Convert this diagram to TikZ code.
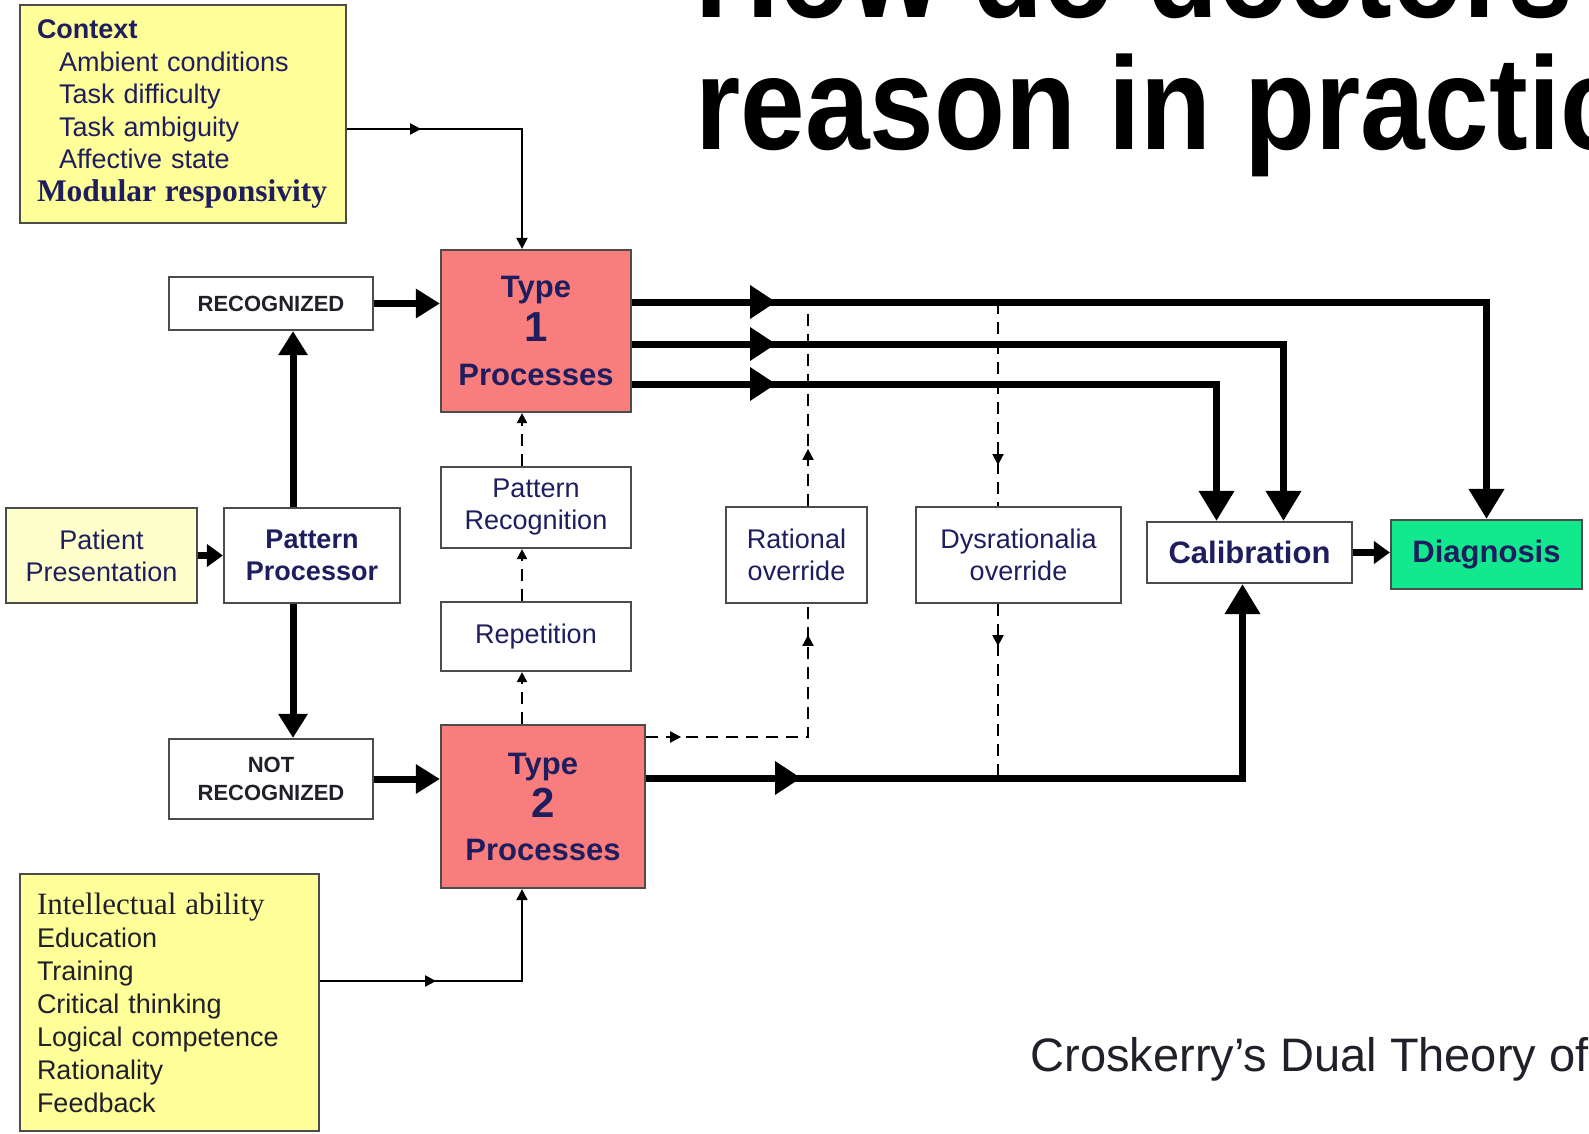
\documentclass[tikz,border=0pt]{standalone}
\usepackage{fontspec}
\setmainfont{Liberation Sans}
\newfontfamily\timesfont{Liberation Serif}
\newfontfamily\titlefont[FakeStretch=0.88]{Liberation Sans}
\usetikzlibrary{arrows.meta,decorations.markings}
\definecolor{navy}{RGB}{30,30,95}
\definecolor{ink}{RGB}{32,32,42}
\definecolor{lightyellow}{RGB}{255,255,153}
\definecolor{paleyellow}{RGB}{255,255,204}
\definecolor{salmon}{RGB}{250,125,125}
\definecolor{mint}{RGB}{18,232,142}
\newcommand{\fsz}[2]{\fontsize{#1}{#2}\selectfont}
\tikzset{
  box/.style={draw=black!70, line width=2.2pt, fill=white, align=center, inner sep=0pt, text=navy},
  heavy/.style={line width=7pt, -{Triangle[length=24pt,width=28pt]}},
  heavier/.style={line width=7pt, -{Triangle[length=30pt,width=34pt]}},
  short/.style={line width=7pt, -{Triangle[length=16pt,width=22pt]}},
  thinlink/.style={line width=2pt, -{Triangle[length=11pt,width=11pt]}},
  dashline/.style={line width=2pt, dash pattern=on 12pt off 8pt},
  dashlink/.style={dashline, -{Triangle[length=10pt,width=10pt]}},
  midbig/.style={postaction={decorate}, decoration={markings,
    mark=at position #1 with {\arrow{Triangle[length=26pt,width=32pt]}}}},
  midsmall/.style={postaction={decorate, decoration={markings,
    mark=at position #1 with {\arrow{Triangle[length=11pt,width=11pt]}}}}},
}
\begin{document}
\begin{tikzpicture}[x=1pt,y=-1pt]
  \useasboundingbox (0,0) rectangle (1589,1134);
  \clip (0,0) rectangle (1589,1134);
  % title and caption
  \node[anchor=base west, font=\titlefont\bfseries\fsz{132}{132}] (title1) at (692,18) {How do doctors};
  \node[anchor=base west, font=\titlefont\bfseries\fsz{132}{132}] (title2) at (692,150) {reason in practice};
  \node[anchor=base west, text=ink, font=\fsz{47}{56}] (caption) at (1027,1071) {Croskerry’s Dual Theory of};
  % boxes
  \node[box, fill=lightyellow, minimum width=326pt, minimum height=218pt, text width=292pt, align=left, font=\fsz{27}{32.5}] (ctx) at (183,114)
    {{\bfseries Context}\\
     \hspace*{22pt}Ambient conditions\\
     \hspace*{22pt}Task difficulty\\
     \hspace*{22pt}Task ambiguity\\
     \hspace*{22pt}Affective state\\
     {\timesfont\bfseries\fsz{31.5}{34}Modular responsivity}};
  \node[box, minimum width=204pt, minimum height=53pt, text=ink, font=\bfseries\fsz{22}{28.5}] (rec) at (271,303.5) {RECOGNIZED};
  \node[box, minimum width=204pt, minimum height=80pt, text=ink, font=\bfseries\fsz{22}{28.5}] (nrec) at (271,779) {NOT\\RECOGNIZED};
  \node[box, fill=paleyellow, minimum width=191pt, minimum height=95pt, font=\fsz{27}{32}] (pat) at (101.5,555.5) {Patient\\Presentation};
  \node[box, minimum width=176pt, minimum height=95pt, font=\bfseries\fsz{27}{32}] (pp) at (312,555.5) {Pattern\\Processor};
  \node[box, fill=salmon, minimum width=190pt, minimum height=162pt, font=\bfseries\fsz{31}{44}] (t1) at (536,331) {Type\\{\fsz{42}{44}1}\\Processes};
  \node[box, fill=salmon, minimum width=204pt, minimum height=163pt, font=\bfseries\fsz{31}{43}] (t2) at (543,806.5) {Type\\{\fsz{42}{43}2}\\Processes};
  \node[box, minimum width=190pt, minimum height=81pt, font=\fsz{27}{32}] (prec) at (536,507.5) {Pattern\\Recognition};
  \node[box, minimum width=190pt, minimum height=69pt, font=\fsz{27}{32}] (rep) at (536,636.5) {Repetition};
  \node[box, minimum width=141pt, minimum height=96pt, font=\fsz{27}{32}] (rat) at (796.5,555) {Rational\\override};
  \node[box, minimum width=205pt, minimum height=96pt, font=\fsz{27}{32}] (dys) at (1018.5,555) {Dysrationalia\\override};
  \node[box, minimum width=205pt, minimum height=61pt, font=\bfseries\fsz{31}{36}] (calib) at (1249.5,552.5) {Calibration};
  \node[box, fill=mint, minimum width=191pt, minimum height=69pt, font=\bfseries\fsz{31}{36}] (diag) at (1486.5,554.5) {Diagnosis};
  \node[box, fill=lightyellow, minimum width=299pt, minimum height=257pt, text width=265pt, align=left, text=ink, font=\fsz{27}{33}] (intel) at (169.5,1002.5)
    {{\timesfont\fsz{31}{33}Intellectual ability}\\Education\\Training\\Critical thinking\\Logical competence\\Rationality\\Feedback};
  % helper coordinates
  \coordinate (colx) at (522,0);
  \coordinate (ppx) at ([xshift=-19pt]pp.north);
  \coordinate (ratx) at ([xshift=11.5pt]rat.north);
  \coordinate (dysx) at ([xshift=-20.5pt]dys.north);
  \coordinate (o1) at ([yshift=29pt]t1.east);
  \coordinate (o2) at ([yshift=-13pt]t1.east);
  \coordinate (o3) at ([yshift=-53pt]t1.east);
  \coordinate (o4) at ([yshift=28.5pt]t2.east);
  % inputs
  \draw[thinlink, midsmall=74pt] ([yshift=-15pt]ctx.east) -| (t1.north -| colx);
  \draw[thinlink, midsmall=116pt] ([yshift=21.5pt]intel.east) -| (t2.south -| colx);
  \draw[short] (pat.east) -- (pp.west);
  \draw[heavy] (pp.north -| ppx) -- (rec.south -| ppx);
  \draw[heavy] (pp.south -| ppx) -- (nrec.north -| ppx);
  \draw[heavy] (rec.east) -- (rec.east -| t1.west);
  \draw[heavy] (nrec.east) -- (nrec.east -| t2.west);
  % learning column
  \draw[dashlink] (t2.north -| colx) -- (rep.south -| colx);
  \draw[dashlink] (rep.north -| colx) -- (prec.south -| colx);
  \draw[dashlink] (prec.north -| colx) -- (t1.south -| colx);
  % outputs
  \draw[heavier, midbig=144pt] (o1) -| (diag.north);
  \draw[heavier, midbig=144pt] (o2) -| ([xshift=34pt]calib.north);
  \draw[heavier, midbig=144pt] (o3) -| ([xshift=-33pt]calib.north);
  \draw[heavier, midbig=155pt] (o4) -| ([xshift=-7pt]calib.south);
  \draw[short] (calib.east) -- (calib.east -| diag.west);
  % overrides
  \draw[dashline, midsmall=57pt] (rat.north -| ratx) -- (o1 -| ratx);
  \draw[dashline, midsmall=163pt] (o1 -| dysx) -- (dys.north -| dysx);
  \draw[dashline, midsmall=35pt, midsmall=264pt] ([yshift=69.5pt]t2.east) -| (rat.south -| ratx);
  \draw[dashline, midsmall=42pt] (dys.south -| dysx) -- (o4 -| dysx);
\end{tikzpicture}
\end{document}
